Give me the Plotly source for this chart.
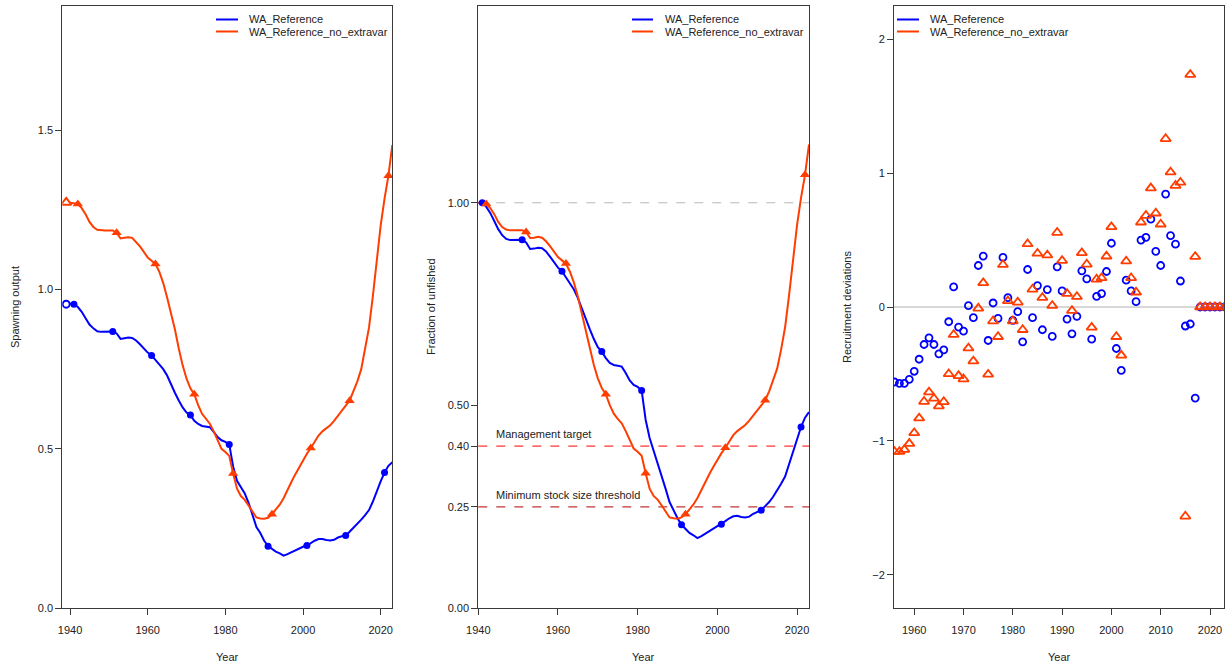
import plotly.graph_objects as go

# ---------------- data ----------------
years = list(range(1940, 2024))

spawn_ref = [
    0.955, 0.954, 0.945, 0.930, 0.910, 0.890, 0.878, 0.869, 0.867, 0.867,
    0.868, 0.868, 0.862, 0.845, 0.847, 0.849, 0.848, 0.840, 0.828, 0.814,
    0.802, 0.793, 0.778, 0.763, 0.750, 0.730, 0.700, 0.676, 0.652, 0.630,
    0.614, 0.606, 0.588, 0.578, 0.572, 0.570, 0.568, 0.553, 0.537, 0.527,
    0.522, 0.514, 0.445, 0.400, 0.378, 0.360, 0.330, 0.290, 0.255, 0.236,
    0.212, 0.195, 0.185, 0.178, 0.172, 0.165, 0.170, 0.176, 0.182, 0.187,
    0.193, 0.197, 0.205, 0.212, 0.217, 0.217, 0.214, 0.213, 0.215, 0.222,
    0.226, 0.228, 0.240, 0.252, 0.265, 0.278, 0.292, 0.308, 0.335, 0.368,
    0.398, 0.426, 0.447, 0.458,
]
spawn_noextra = [
    1.272, 1.271, 1.268, 1.255, 1.236, 1.212, 1.196, 1.187, 1.185, 1.185,
    1.185, 1.185, 1.178, 1.160, 1.162, 1.164, 1.162, 1.150, 1.135, 1.118,
    1.100, 1.090, 1.080, 1.055, 1.020, 0.975, 0.925, 0.875, 0.815, 0.762,
    0.720, 0.690, 0.671, 0.637, 0.610, 0.593, 0.579, 0.555, 0.527, 0.500,
    0.490, 0.478, 0.423, 0.375, 0.352, 0.340, 0.322, 0.302, 0.285, 0.282,
    0.281, 0.284, 0.295, 0.310, 0.325, 0.345, 0.372, 0.396, 0.420, 0.443,
    0.465, 0.485, 0.503, 0.524, 0.542, 0.555, 0.565, 0.574, 0.588, 0.605,
    0.622, 0.636, 0.651, 0.680, 0.712, 0.750, 0.810, 0.880, 0.980, 1.090,
    1.200, 1.285, 1.357, 1.453,
]
# unfished (virgin) spawning output, drawn as open symbols
virgin_year = 1939
virgin_ref = 0.954
virgin_noextra = 1.273

frac_ref = [
    1.000, 1.000, 0.990, 0.975, 0.955, 0.935, 0.920, 0.911, 0.908, 0.908,
    0.909, 0.909, 0.902, 0.886, 0.887, 0.889, 0.888, 0.880, 0.867, 0.852,
    0.840, 0.831, 0.816, 0.800, 0.786, 0.765, 0.738, 0.713, 0.688, 0.664,
    0.644, 0.633, 0.617, 0.605, 0.600, 0.598, 0.596, 0.580, 0.562, 0.551,
    0.546, 0.537, 0.465, 0.420, 0.390, 0.360, 0.330, 0.295, 0.262, 0.240,
    0.222, 0.206, 0.195, 0.186, 0.180, 0.173, 0.178, 0.184, 0.190, 0.196,
    0.202, 0.207, 0.215, 0.222, 0.227, 0.228, 0.225, 0.224, 0.226, 0.233,
    0.238, 0.242, 0.252, 0.262, 0.275, 0.290, 0.307, 0.325, 0.355, 0.388,
    0.418, 0.447, 0.470, 0.484,
]
frac_noextra = [
    1.000, 1.000, 0.997, 0.987, 0.972, 0.953, 0.940, 0.934, 0.932, 0.932,
    0.932, 0.932, 0.928, 0.913, 0.914, 0.916, 0.914, 0.905, 0.893, 0.880,
    0.866, 0.858, 0.850, 0.830, 0.803, 0.768, 0.728, 0.689, 0.642, 0.600,
    0.567, 0.543, 0.528, 0.501, 0.480, 0.467, 0.456, 0.437, 0.415, 0.394,
    0.386, 0.376, 0.333, 0.295, 0.277, 0.268, 0.254, 0.238, 0.224, 0.222,
    0.221, 0.224, 0.232, 0.244, 0.256, 0.272, 0.293, 0.312, 0.331, 0.349,
    0.366, 0.382, 0.396, 0.413, 0.427, 0.437, 0.445, 0.452, 0.463, 0.476,
    0.490, 0.501, 0.513, 0.535, 0.561, 0.591, 0.638, 0.693, 0.772, 0.858,
    0.945, 1.012, 1.069, 1.144,
]

# symbol years (staggered between the two models)
mark_years_ref = [1941, 1951, 1961, 1971, 1981, 1991, 2001, 2011, 2021]
mark_years_noextra = [1942, 1952, 1962, 1972, 1982, 1992, 2002, 2012, 2022]

rec_years = list(range(1956, 2024))
recdev_ref = [
    -0.56, -0.57, -0.57, -0.54, -0.48, -0.39, -0.28, -0.23, -0.28, -0.35,
    -0.32, -0.11, 0.15, -0.15, -0.18, 0.01, -0.08, 0.31, 0.38, -0.25,
    0.03, -0.085, 0.37, 0.07, -0.10, -0.035, -0.26, 0.28, -0.08, 0.16,
    -0.17, 0.13, -0.22, 0.30, 0.12, -0.09, -0.20, -0.07, 0.27, 0.21,
    -0.24, 0.08, 0.10, 0.265, 0.476, -0.31, -0.474, 0.20, 0.12, 0.04,
    0.50, 0.52, 0.656, 0.416, 0.31, 0.843, 0.533, 0.469, 0.194, -0.142,
    -0.127, -0.68, 0.0, 0.0, 0.0, 0.0, 0.0, 0.0,
]
recdev_noextra = [
    -1.08, -1.08, -1.065, -1.02, -0.94, -0.83, -0.706, -0.636, -0.683, -0.74,
    -0.708, -0.50, -0.207, -0.514, -0.538, -0.307, -0.404, -0.01, 0.18, -0.503,
    -0.105, -0.222, 0.316, 0.045, -0.105, 0.035, -0.17, 0.471, 0.132, 0.40,
    0.07, 0.387, 0.01, 0.556, 0.346, 0.10, -0.027, 0.077, 0.404, 0.319,
    -0.152, 0.207, 0.217, 0.379, 0.598, -0.222, -0.361, 0.342, 0.217, 0.11,
    0.633, 0.683, 0.888, 0.70, 0.618, 1.256, 1.007, 0.907, 0.93, -1.563,
    1.735, 0.376, 0.0, 0.0, 0.0, 0.0, 0.0, 0.0,
]

series_names = ["WA_Reference", "WA_Reference_no_extravar"]

# ---------------- styling ----------------
W, H = 1225, 669
BLUE = "#0000ff"
RED = "#ff3d00"
AXIS = "#3a3a3a"
FONT = "Liberation Sans, Arial, sans-serif"


def px(x):
    return x / W


def py(y):
    return 1 - y / H


def pick(xs, ys, keep):
    sel = [(x, y) for x, y in zip(xs, ys) if x in keep]
    return [s[0] for s in sel], [s[1] for s in sel]


fig = go.Figure()

# panel 1: spawning output
fig.add_trace(go.Scatter(x=years, y=spawn_ref, mode="lines",
                         line=dict(color=BLUE, width=2), xaxis="x", yaxis="y",
                         showlegend=False))
fig.add_trace(go.Scatter(x=years, y=spawn_noextra, mode="lines",
                         line=dict(color=RED, width=2), xaxis="x", yaxis="y",
                         showlegend=False))
mx, my = pick(years, spawn_ref, mark_years_ref)
fig.add_trace(go.Scatter(x=mx, y=my, mode="markers",
                         marker=dict(color=BLUE, size=7, symbol="circle"),
                         xaxis="x", yaxis="y", showlegend=False))
mx, my = pick(years, spawn_noextra, mark_years_noextra)
fig.add_trace(go.Scatter(x=mx, y=my, mode="markers",
                         marker=dict(color=RED, size=9, symbol="triangle-up"),
                         xaxis="x", yaxis="y", showlegend=False))
fig.add_trace(go.Scatter(x=[virgin_year], y=[virgin_ref], mode="markers",
                         marker=dict(color=BLUE, size=7, symbol="circle-open",
                                     line=dict(width=2)),
                         xaxis="x", yaxis="y", showlegend=False))
fig.add_trace(go.Scatter(x=[virgin_year], y=[virgin_noextra], mode="markers",
                         marker=dict(color=RED, size=9, symbol="triangle-up-open",
                                     line=dict(width=2)),
                         xaxis="x", yaxis="y", showlegend=False))

# panel 2: fraction of unfished
fig.add_trace(go.Scatter(x=years, y=frac_ref, mode="lines",
                         line=dict(color=BLUE, width=2), xaxis="x2", yaxis="y2",
                         showlegend=False))
fig.add_trace(go.Scatter(x=years, y=frac_noextra, mode="lines",
                         line=dict(color=RED, width=2), xaxis="x2", yaxis="y2",
                         showlegend=False))
mx, my = pick(years, frac_ref, mark_years_ref)
fig.add_trace(go.Scatter(x=mx, y=my, mode="markers",
                         marker=dict(color=BLUE, size=7, symbol="circle"),
                         xaxis="x2", yaxis="y2", showlegend=False))
mx, my = pick(years, frac_noextra, mark_years_noextra)
fig.add_trace(go.Scatter(x=mx, y=my, mode="markers",
                         marker=dict(color=RED, size=9, symbol="triangle-up"),
                         xaxis="x2", yaxis="y2", showlegend=False))

# panel 3: recruitment deviations
fig.add_trace(go.Scatter(x=rec_years, y=recdev_ref, mode="markers",
                         marker=dict(color=BLUE, size=7, symbol="circle-open",
                                     line=dict(width=1.8)),
                         xaxis="x3", yaxis="y3", showlegend=False))
fig.add_trace(go.Scatter(x=rec_years, y=recdev_noextra, mode="markers",
                         marker=dict(color=RED, size=9, symbol="triangle-up-open",
                                     line=dict(width=1.8)),
                         xaxis="x3", yaxis="y3", showlegend=False))

shapes = []
annotations = []

# reference lines
shapes.append(dict(type="line", xref="x2 domain", yref="y2", x0=0, x1=1,
                   y0=1.0, y1=1.0, line=dict(color="#b8b8b8", width=1, dash="dash"),
                   layer="below"))
shapes.append(dict(type="line", xref="x2 domain", yref="y2", x0=0, x1=1,
                   y0=0.40, y1=0.40, line=dict(color="#ff0000", width=1, dash="dash"),
                   layer="below"))
shapes.append(dict(type="line", xref="x2 domain", yref="y2", x0=0, x1=1,
                   y0=0.25, y1=0.25, line=dict(color="#b00000", width=1, dash="dash"),
                   layer="below"))
shapes.append(dict(type="line", xref="x3 domain", yref="y3", x0=0, x1=1,
                   y0=0, y1=0, line=dict(color="#b0b0b0", width=1), layer="below"))

annotations.append(dict(text="Management target", xref="paper", yref="y2",
                        x=px(494), y=0.40, yshift=12, xanchor="left",
                        yanchor="middle", showarrow=False,
                        font=dict(family=FONT, size=11, color="#222")))
annotations.append(dict(text="Minimum stock size threshold", xref="paper", yref="y2",
                        x=px(494), y=0.25, yshift=12, xanchor="left",
                        yanchor="middle", showarrow=False,
                        font=dict(family=FONT, size=11, color="#222")))

# legends drawn as short line keys with labels
for x0, x1, xt in [(216, 238, 247), (632, 653, 663), (897, 919, 928)]:
    for yy, col, name in [(19.5, BLUE, series_names[0]), (31.5, RED, series_names[1])]:
        shapes.append(dict(type="line", xref="paper", yref="paper",
                           x0=px(x0), x1=px(x1), y0=py(yy), y1=py(yy),
                           line=dict(color=col, width=2)))
        annotations.append(dict(text=name, xref="paper", yref="paper",
                                x=px(xt), y=py(yy), xanchor="left", yanchor="middle",
                                showarrow=False,
                                font=dict(family=FONT, size=11, color="#222")))

# axis titles
for xc in [227, 643, 1059]:
    annotations.append(dict(text="Year", xref="paper", yref="paper",
                            x=px(xc), y=py(657), xanchor="center", yanchor="middle",
                            showarrow=False, font=dict(family=FONT, size=11, color="#222")))
for xc, t in [(15, "Spawning output"), (431, "Fraction of unfished"),
              (847, "Recruitment deviations")]:
    annotations.append(dict(text=t, xref="paper", yref="paper", textangle=-90,
                            x=px(xc), y=py(307), xanchor="center", yanchor="middle",
                            showarrow=False, font=dict(family=FONT, size=11, color="#222")))

ydom = [py(608.3), py(5.7)]
common = dict(showline=True, linecolor=AXIS, linewidth=1, mirror=True,
              ticks="outside", ticklen=6, tickcolor=AXIS, showgrid=False,
              zeroline=False, automargin=False,
              tickfont=dict(family=FONT, size=11, color="#222"))
xcommon = dict(ticklabelstandoff=5, **common)

fig.update_layout(
    width=W, height=H,
    margin=dict(l=0, r=0, t=0, b=0, autoexpand=False),
    paper_bgcolor="white", plot_bgcolor="white",
    showlegend=False,
    shapes=shapes, annotations=annotations,
    xaxis=dict(domain=[px(62.3), px(392.3)], range=[1938.0, 2023.0], anchor="y",
               tickvals=[1940, 1960, 1980, 2000, 2020], **xcommon),
    yaxis=dict(domain=ydom, range=[0, 1.89], anchor="x",
               tickvals=[0.0, 0.5, 1.0, 1.5], ticktext=["0.0", "0.5", "1.0", "1.5"],
               **common),
    xaxis2=dict(domain=[px(478.3), px(809)], range=[1940.0, 2023.0], anchor="y2",
                tickvals=[1940, 1960, 1980, 2000, 2020], **xcommon),
    yaxis2=dict(domain=ydom, range=[0, 1.486], anchor="x2",
                tickvals=[0.0, 0.25, 0.40, 0.50, 1.00],
                ticktext=["0.00", "0.25", "0.40", "0.50", "1.00"], **common),
    xaxis3=dict(domain=[px(894), px(1224.3)], range=[1955.9, 2022.9], anchor="y3",
                tickvals=[1960, 1970, 1980, 1990, 2000, 2010, 2020], **xcommon),
    yaxis3=dict(domain=ydom, range=[-2.25, 2.25], anchor="x3",
                tickvals=[-2, -1, 0, 1, 2], **common),
)

fig.write_html("out.html")
